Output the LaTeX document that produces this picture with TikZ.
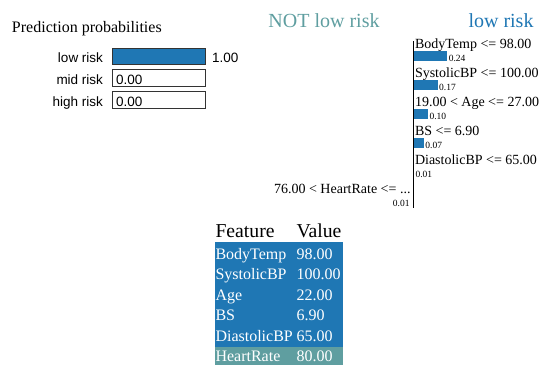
\documentclass[tikz,border=0pt]{standalone}
\usepackage{fontspec}
\setmainfont{Liberation Serif}
\newfontfamily\arialfont{Liberation Sans}
\definecolor{lowblue}{HTML}{1F77B4}
\definecolor{notteal}{HTML}{5F9EA0}
\begin{document}
\begin{tikzpicture}[x=1pt,y=-1pt,
  every node/.style={inner sep=0pt,outer sep=0pt},
  titletxt/.style={anchor=base west,font=\fontsize{16}{19}\selectfont},
  probtxt/.style={font=\arialfont\fontsize{13.5}{16}\selectfont},
  probbox/.style={draw=black!80,line width=0.9pt},
  classhead/.style={anchor=base,font=\fontsize{20}{24}\selectfont},
  feattxt/.style={anchor=base west,font=\fontsize{14}{16}\selectfont},
  smalltxt/.style={font=\fontsize{9.5}{11}\selectfont},
  tabhead/.style={anchor=base west,font=\fontsize{19.7}{22}\selectfont},
  tabtxt/.style={anchor=base west,text=white,font=\fontsize{16}{18}\selectfont}]
\useasboundingbox (0,0) rectangle (539,365);

% ---- prediction probabilities ----
\node[titletxt] (title) at (12,32.5) {Prediction probabilities};

\fill[lowblue] (112,48) rectangle (205,64);
\draw[probbox] (112,48) rectangle (205,64);
\draw[probbox] (112,69.5) rectangle (205,86);
\draw[probbox] (112,91.5) rectangle (205,108);

\node[probtxt,anchor=base east] (plow) at (103,62.5) {low risk};
\node[probtxt,anchor=base east] (pmid) at (103,84) {mid risk};
\node[probtxt,anchor=base east] (phigh) at (103,106) {high risk};
\node[probtxt,anchor=base west] (vlow) at (212,62.5) {1.00};
\node[probtxt,anchor=base west] (vmid) at (116,84) {0.00};
\node[probtxt,anchor=base west] (vhigh) at (116,106) {0.00};

% ---- explanation chart ----
\node[classhead,text=notteal] (hnot) at (324,27) {NOT low risk};
\node[classhead,text=lowblue] (hlow) at (501,27) {low risk};

\coordinate (axtop) at (413.5,41);
\coordinate (axbot) at (413.5,207.5);
\draw[line width=1.5pt] (axtop) -- (axbot);

\foreach \lab/\val/\i in {{BodyTemp <= 98.00}/0.24/0,
                          {SystolicBP <= 100.00}/0.17/1,
                          {19.00 < Age <= 27.00}/0.10/2,
                          {BS <= 6.90}/0.07/3}{
  \pgfmathsetmacro{\yb}{48.3+29*\i}
  \pgfmathsetmacro{\len}{137*\val}
  \node[feattxt] (f\i) at (415,\yb) {\lab};
  \fill[lowblue] (414.3,\yb+2.4) rectangle ++(\len,9.8);
  \node[smalltxt,anchor=base west] (w\i) at (414.3+\len+1.6,\yb+13.2) {\val};
}
% contributions too small to show as bars
\node[feattxt] (f4) at (415,164.3) {DiastolicBP <= 65.00};
\node[smalltxt,anchor=base west] (w4) at (415.5,177.5) {0.01};
\node[feattxt,anchor=base east] (f5) at (410.5,193.3) {76.00 < HeartRate <= ...};
\node[smalltxt,anchor=base east] (w5) at (409.5,206.5) {0.01};

% ---- feature table ----
\node[tabhead] (thf) at (215.5,237.3) {Feature};
\node[tabhead] (thv) at (296.5,237.3) {Value};
\fill[lowblue] (214.5,242) rectangle (343,347);
\fill[notteal] (214.5,347) rectangle (343,365);
\foreach \fe/\va/\i in {BodyTemp/98.00/0, SystolicBP/100.00/1, Age/22.00/2,
                        BS/6.90/3, DiastolicBP/65.00/4, HeartRate/80.00/5}{
  \pgfmathsetmacro{\yb}{259.4+20.5*\i}
  \node[tabtxt] (tf\i) at (215.5,\yb) {\fe};
  \node[tabtxt] (tv\i) at (296.5,\yb) {\va};
}
\end{tikzpicture}
\end{document}
